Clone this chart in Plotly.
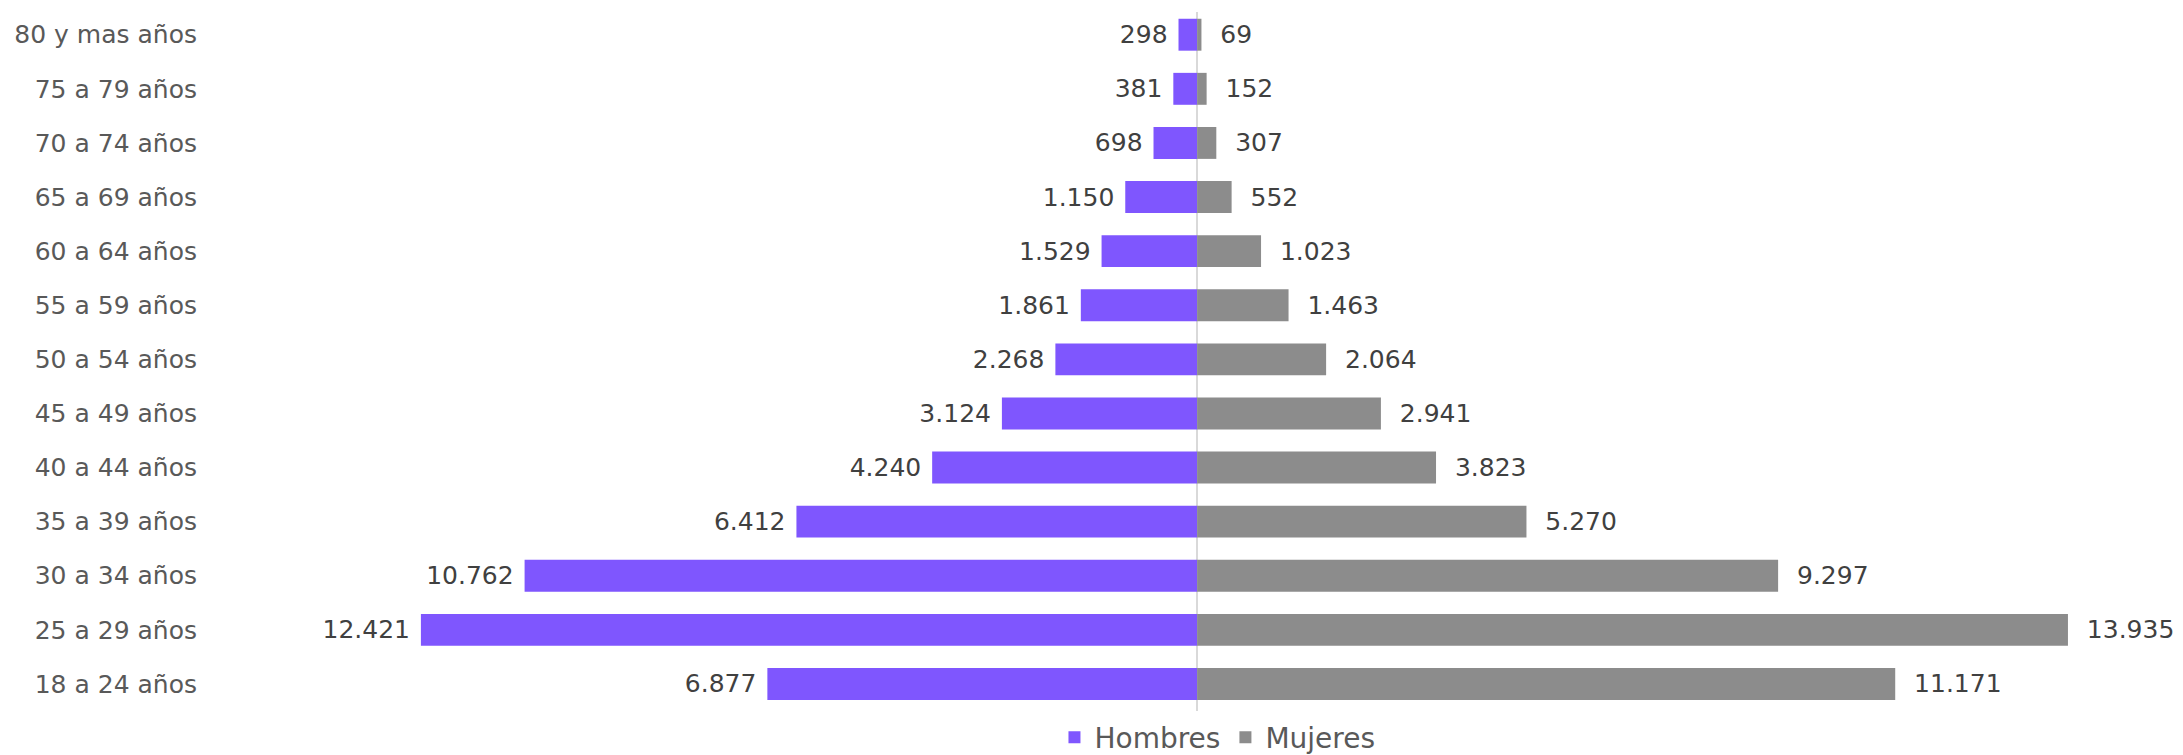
import plotly.graph_objects as go

categories = ["18 a 24 años", "25 a 29 años", "30 a 34 años", "35 a 39 años",
              "40 a 44 años", "45 a 49 años", "50 a 54 años", "55 a 59 años",
              "60 a 64 años", "65 a 69 años", "70 a 74 años", "75 a 79 años",
              "80 y mas años"]
hombres = [6877, 12421, 10762, 6412, 4240, 3124, 2268, 1861, 1529, 1150, 698, 381, 298]
mujeres = [11171, 13935, 9297, 5270, 3823, 2941, 2064, 1463, 1023, 552, 307, 152, 69]

PURPLE = "#7F56FE"
GRAY = "#8C8C8C"
FONT = "DejaVu Sans"
NB = "\u00a0\u00a0"

def fmt(v):
    return f"{v:,}".replace(",", ".")

fig = go.Figure()
fig.add_trace(go.Bar(
    y=categories, x=[-v for v in hombres], orientation="h", name="Hombres",
    marker=dict(color=PURPLE, line=dict(width=0)),
    text=[fmt(v) + "\u00a0" for v in hombres], textposition="outside",
    textfont=dict(family=FONT, size=25, color="#404040"),
    cliponaxis=False,
))
fig.add_trace(go.Bar(
    y=categories, x=mujeres, orientation="h", name="Mujeres",
    marker=dict(color=GRAY, line=dict(width=0)),
    text=[NB + fmt(v) for v in mujeres], textposition="outside",
    textfont=dict(family=FONT, size=25, color="#404040"),
    cliponaxis=False,
))

fig.update_layout(
    width=2175, height=747,
    barmode="relative", bargap=0.41,
    plot_bgcolor="white", paper_bgcolor="white",
    margin=dict(l=208, r=11, t=4, b=44, autoexpand=False),
    font=dict(family=FONT, size=25, color="#595959"),
    showlegend=True,
    legend=dict(orientation="h", x=0.512, xanchor="center", y=-0.038, yanchor="middle",
                font=dict(family=FONT, size=28, color="#595959"),
                itemwidth=30, traceorder="normal"),
)
fig.update_xaxes(range=[-15700, 15600], showticklabels=False, showgrid=False,
                 zeroline=True, zerolinecolor="#D9D9D9", zerolinewidth=2,
                 showline=False, fixedrange=True)
fig.update_yaxes(categoryorder="array", categoryarray=categories,
                 range=[-0.5, 12.42],
                 showgrid=False, showline=False, ticks="", ticklabelstandoff=18,
                 tickfont=dict(family=FONT, size=25, color="#595959"))

fig.write_html("out.html")
